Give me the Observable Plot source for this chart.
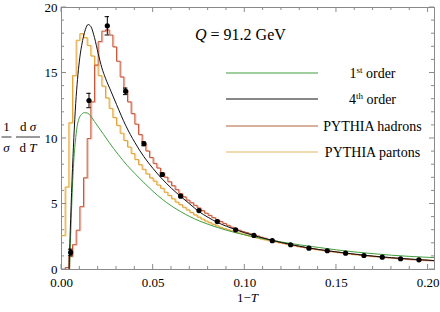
<!DOCTYPE html>
<html><head><meta charset="utf-8">
<script src="https://cdn.jsdelivr.net/npm/d3@7"></script>
<script src="https://cdn.jsdelivr.net/npm/@observablehq/plot@0.6"></script>
<style>body{margin:0;background:#fff}#chart{width:440px;height:312px}</style>
</head><body><div id="chart"></div>
<script>
// ---- data ----
const binWidth = 0.002;
const hadronVals = [0,0.15,1.0,1.9,3.0,4.8,7.0,10.0,12.8,15.6,17.4,18.2,18.3,17.9,17.0,15.9,14.7,13.7,12.8,11.9,
  11.1,10.3,9.6,9.05,8.55,8.1,7.75,7.4,7.05,6.7,6.4,6.1,5.8,5.55,5.3,5.1,4.9,4.7,4.5,4.3,
  4.13,3.96,3.8,3.66,3.51,3.37,3.23,3.1,3.0,2.9,2.82,2.73,2.65,2.56,2.47,2.39,2.3,2.22,2.16,2.09,
  2.03,1.96,1.9,1.84,1.79,1.73,1.68,1.63,1.59,1.55,1.51,1.47,1.43,1.39,1.36,1.32,1.29,1.25,1.22,1.18,
  1.15,1.11,1.08,1.05,1.03,1.0,0.98,0.95,0.93,0.9,0.88,0.85,0.83,0.81,0.79,0.77,0.76,0.74,0.72,0.71,0.69,0.68];
const partonVals = [2.6,6.3,11.2,14.8,17.5,18.0,17.7,17.1,16.3,15.6,14.8,14.0,13.1,12.3,11.6,11.0,10.4,9.85,9.35,8.85,
  8.4,8.0,7.65,7.3,7.0,6.75,6.45,6.2,5.9,5.65,5.4,5.15,4.95,4.75,4.55,4.35,4.17,4.0,3.85,3.7,
  3.57,3.45,3.33,3.22,3.12,3.03,2.95,2.87,2.79,2.71,2.63,2.55,2.48,2.41,2.34,2.28,2.22,2.16,2.11,2.05,
  2.0,1.94,1.88,1.83,1.77,1.72,1.67,1.62,1.58,1.54,1.5,1.46,1.42,1.38,1.35,1.31,1.28,1.24,1.21,1.17,
  1.14,1.11,1.08,1.05,1.02,1.0,0.97,0.95,0.92,0.9,0.88,0.86,0.84,0.82,0.8,0.78,0.76,0.75,0.73,0.72,0.7,0.69];
const order1X = [0.0044,0.005,0.0056,0.0065,0.0075,0.0085,0.0095,0.011,0.0125,0.014,0.016,0.018,0.02,0.023,0.026,0.031,0.036,0.04,0.045,0.05,0.055,0.06,0.065,0.07,0.075,0.08,0.09,0.1,0.11,0.12,0.13,0.14,0.15,0.16,0.17,0.18,0.19,0.2035];
const order1Y = [0,2.6,5.0,7.8,9.7,10.9,11.5,11.85,11.97,11.95,11.7,11.3,10.9,10.3,9.7,8.77,7.92,7.33,6.62,5.96,5.36,4.85,4.42,4.04,3.72,3.45,3.0,2.64,2.35,2.1,1.88,1.69,1.5,1.34,1.21,1.09,1.0,0.91];
const order4X = [0.0041,0.005,0.006,0.007,0.008,0.009,0.010,0.011,0.012,0.013,0.0145,0.016,0.018,0.020,0.022,0.024,0.027,0.030,0.035,0.040,0.045,0.050,0.055,0.060,0.065,0.070,0.075,0.080,0.085,0.090,0.095,0.100,0.110,0.120,0.130,0.140,0.150,0.160,0.170,0.180,0.190,0.2035];
const order4Y = [0,3.9,7.7,10.8,13.2,14.9,16.2,17.1,17.8,18.3,18.7,18.55,17.7,16.5,15.4,14.6,13.6,12.6,11.0,9.7,8.6,7.7,6.9,6.2,5.58,5.0,4.42,3.98,3.6,3.3,3.04,2.8,2.4,2.06,1.77,1.53,1.34,1.17,1.02,0.9,0.8,0.68];
const dataX = [0.005,0.015,0.025,0.035,0.045,0.055,0.065,0.075,0.085,0.095,0.105,0.115,0.125,0.135,0.145,0.155,0.165,0.175,0.185,0.195,0.205];
const dataY = [1.3,12.9,18.6,13.6,9.6,7.25,5.6,4.5,3.66,3.03,2.6,2.2,1.89,1.63,1.43,1.25,1.07,0.94,0.82,0.74,0.65];
const dataErr = [0.25,0.55,0.7,0.25,0.15,0.12,0.1,0.08,0.07,0.06,0.05,0.05,0.04,0.04,0.03,0.03,0.03,0.03,0.02,0.02,0.02];
const xMajorTicks = [0,0.05,0.1,0.15,0.2];
const xMinorTicks = [0.01,0.02,0.03,0.04,0.06,0.07,0.08,0.09,0.11,0.12,0.13,0.14,0.16,0.17,0.18,0.19];
const yMajorTicks = [0,5,10,15,20];
const yMinorTicks = [1,2,3,4,6,7,8,9,11,12,13,14,16,17,18,19];
const legendNames = ["1st order","4th order","PYTHIA hadrons","PYTHIA partons"];
const legendColors = ["#3f9e3f","#111111","#b2603c","#e3b767"];
const titleText = ["Q"," = 91.2 GeV"];
const xLabelText = ["1\u2212","T"];

// ---- build ----
const steps = vals => vals.map((v,i)=>({x:i*binWidth,y:v})).concat([{x:vals.length*binWidth,y:vals[vals.length-1]}]);
const hadrons = steps(hadronVals), partons = steps(partonVals);
const o1 = order1X.map((x,i)=>({x,y:order1Y[i]}));
const o4 = order4X.map((x,i)=>({x,y:order4Y[i]}));
const pts = dataX.map((x,i)=>({x,y:dataY[i],e:dataErr[i]}));
const capW = 0.0012;
const font = "Liberation Serif, Times New Roman, DejaVu Serif, serif";

const plot = Plot.plot({
  width:440, height:312, marginLeft:61, marginRight:6, marginTop:7, marginBottom:43,
  style:{fontFamily:font, fontSize:"13px", background:"white", color:"#000"},
  x:{domain:[0,0.2035], label:null},
  y:{domain:[0,20], label:null},
  marks:[
    Plot.frame({stroke:"#8a8a8a"}),
    Plot.axisX(xMajorTicks,{tickSize:0, tickPadding:8.5, tickFormat:d3.format(".2f"), label:null, fontSize:13}),
    Plot.axisY(yMajorTicks,{tickSize:0, tickPadding:4, tickFormat:d=>String(d), label:null, fontSize:13}),
    Plot.line(partons,{x:"x",y:"y",curve:"step-after",stroke:"#f3dca8",strokeWidth:1.2,dx:1,dy:0.5,clip:true}),
    Plot.line(hadrons,{x:"x",y:"y",curve:"step-after",stroke:"#edc0b5",strokeWidth:1.2,dx:1,dy:0.5,clip:true}),
    Plot.line(partons,{x:"x",y:"y",curve:"step-after",stroke:"#e2a43a",strokeWidth:1,clip:true}),
    Plot.line(hadrons,{x:"x",y:"y",curve:"step-after",stroke:"#c9583a",strokeWidth:1,clip:true}),
    Plot.line(o1,{x:"x",y:"y",curve:"monotone-x",stroke:"#3f9e3f",strokeWidth:1,clip:true}),
    Plot.line(o4,{x:"x",y:"y",curve:"monotone-x",stroke:"#111",strokeWidth:1,clip:true}),
    Plot.ruleX(pts,{x:"x",y1:d=>d.y-d.e,y2:d=>d.y+d.e,stroke:"#000",strokeWidth:1,clip:true}),
    Plot.ruleY(pts.filter(d=>d.e>0.1),{y:d=>d.y+d.e,x1:d=>d.x-capW,x2:d=>d.x+capW,stroke:"#000",clip:true}),
    Plot.ruleY(pts.filter(d=>d.e>0.1),{y:d=>d.y-d.e,x1:d=>d.x-capW,x2:d=>d.x+capW,stroke:"#000",clip:true}),
    Plot.dot(pts,{x:"x",y:"y",r:2.6,fill:"#000",stroke:null,clip:true})
  ]
});
document.getElementById("chart").appendChild(plot);

const svg = d3.select(plot);
const sx = plot.scale("x"), sy = plot.scale("y");
const [L,R] = sx.range, [B,T] = sy.range;
const g = svg.append("g").attr("stroke","#8a8a8a").attr("stroke-width",1);
function tx(v,len){const X=sx.apply(v);
  g.append("line").attr("x1",X).attr("x2",X).attr("y1",B).attr("y2",B-len);
  g.append("line").attr("x1",X).attr("x2",X).attr("y1",T).attr("y2",T+len);}
function ty(v,len){const Y=sy.apply(v);
  g.append("line").attr("y1",Y).attr("y2",Y).attr("x1",L).attr("x2",L+len);
  g.append("line").attr("y1",Y).attr("y2",Y).attr("x1",R).attr("x2",R-len);}
xMajorTicks.forEach(v=>tx(v,5)); xMinorTicks.forEach(v=>tx(v,3));
yMajorTicks.forEach(v=>ty(v,5)); yMinorTicks.forEach(v=>ty(v,3));

// title
const t = svg.append("text").attr("x",195).attr("y",40).attr("text-anchor","start").attr("font-family",font).attr("font-size",16).attr("fill","#000");
t.append("tspan").attr("font-style","italic").text(titleText[0]);
t.append("tspan").text(titleText[1]);
// legend
const rowY = [73,99,126,152];
legendNames.forEach((name,i)=>{
  svg.append("line").attr("x1",226).attr("x2",318).attr("y1",rowY[i]).attr("y2",rowY[i]).attr("stroke",legendColors[i]).attr("stroke-width",1);
  const tt = svg.append("text").attr("x",372.5).attr("y",rowY[i]+5).attr("text-anchor","middle").attr("font-family",font).attr("font-size",14).attr("fill","#000");
  const m = name.match(/^(\d)(st|th) (.*)$/);
  if (m) {
    tt.append("tspan").text(m[1]);
    tt.append("tspan").attr("dy",-5).attr("font-size",9).text(m[2]);
    tt.append("tspan").attr("dy",5).text(" "+m[3]);
  } else tt.text(name);
});
// x label
const xl = svg.append("text").attr("x",(L+R)/2).attr("y",302).attr("text-anchor","middle").attr("font-family",font).attr("font-size",13).attr("fill","#000");
xl.append("tspan").text(xLabelText[0]);
xl.append("tspan").attr("font-style","italic").text(xLabelText[1]);
// y label: (1/σ)(dσ/dT)
function frac(cx,num,den){
  const n = svg.append("text").attr("x",cx).attr("y",131).attr("text-anchor","middle").attr("font-family",font).attr("font-size",13);
  num.forEach(([s,it])=>n.append("tspan").attr("font-style",it?"italic":"normal").text(s));
  svg.append("line").attr("x1",cx-(den.length>1?12:5)).attr("x2",cx+(den.length>1?12:5)).attr("y1",137).attr("y2",137).attr("stroke","#000").attr("stroke-width",0.8);
  const d = svg.append("text").attr("x",cx).attr("y",152).attr("text-anchor","middle").attr("font-family",font).attr("font-size",13);
  den.forEach(([s,it])=>d.append("tspan").attr("font-style",it?"italic":"normal").text(s));
}
frac(6.5,[["1",false]],[["\u03C3",true]]);
frac(28,[["d ",false],["\u03C3",true]],[["d ",false],["T",true]]);
</script></body></html>
